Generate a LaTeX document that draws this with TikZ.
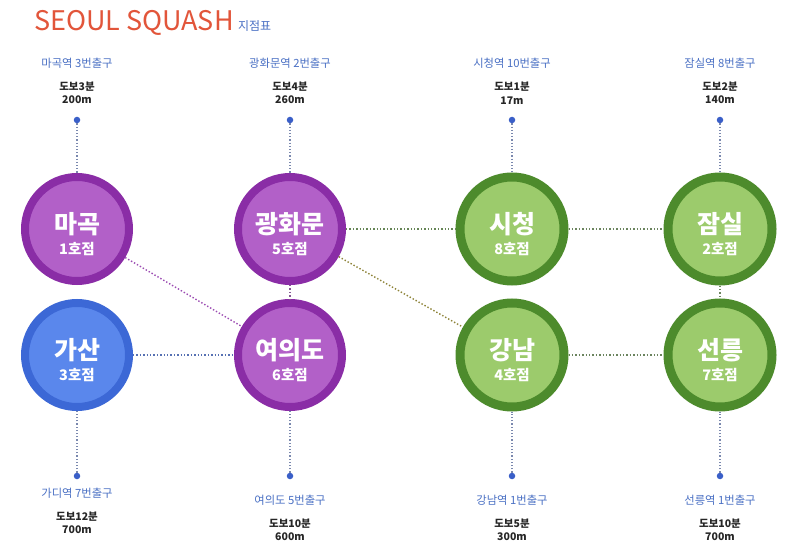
\documentclass[tikz,border=0pt]{standalone}
\usepackage{fontspec}
\setmainfont{Noto Sans CJK KR}
\begin{document}
\begin{tikzpicture}[x=1pt,y=-1pt,
  ring/.style={circle, minimum size=104pt, inner sep=0pt, line width=8pt},
  purp/.style={ring, draw=purpring, fill=purpin},
  blu/.style={ring, draw=bluring, fill=bluin},
  grn/.style={ring, draw=grnring, fill=grnin, line width=9pt},
  bigt/.style={text=white, font=\fontsize{25}{30}\selectfont\bfseries, inner sep=0pt},
  subt/.style={text=white, font=\fontsize{14.5}{16}\selectfont\bfseries, inner sep=0pt},
  stlabel/.style={text=stblue, font=\fontsize{11.3}{13}\selectfont, inner sep=0pt},
  walk/.style={text=black!85, font=\fontsize{10.5}{13.5}\selectfont\bfseries, align=center, inner sep=0pt},
  dotnode/.style={circle, fill=dotblue, minimum size=6.5pt, inner sep=0pt},
  conn/.style={dotted, line width=1.4pt},
  pin/.style={dotted, line width=1.2pt, draw=pingray}
]
\newcommand{\branch}[6]{%
  \node[#2] (#1) at (#3,#4) {};
  \node[bigt] (#1-n) at (#3,#4-5) {#5};
  \node[subt] (#1-s) at (#3,#4+20) {#6};}
\definecolor{purpring}{HTML}{8A2DA6}
\definecolor{purpin}{HTML}{B260C8}
\definecolor{bluring}{HTML}{3C68D6}
\definecolor{bluin}{HTML}{5A87EC}
\definecolor{grnring}{HTML}{4D8B2C}
\definecolor{grnin}{HTML}{9CCB6C}
\definecolor{stblue}{HTML}{4A70C4}
\definecolor{dotblue}{HTML}{3A5FC8}
\definecolor{pingray}{HTML}{7A88AE}
\definecolor{titlered}{HTML}{E2553A}
\useasboundingbox[fill=white] (0,0) rectangle (800,553);

% title
\node[anchor=base west, inner sep=0pt, text=titlered, font=\fontsize{27}{30}\selectfont] (title) at (34,31) {SEOUL SQUASH};
\node[anchor=base west, inner sep=0pt, text=stblue, font=\fontsize{12}{14}\selectfont] (titlesub) at ([xshift=4pt]title.base east) {지점표};

% circles
\branch{magok}{purp}{77}{229}{마곡}{1호점}
\branch{gwang}{purp}{290}{229}{광화문}{5호점}
\branch{sichung}{grn}{512}{229}{시청}{8호점}
\branch{jamsil}{grn}{720}{229}{잠실}{2호점}
\branch{gasan}{blu}{77}{355}{가산}{3호점}
\branch{yeoui}{purp}{290}{355}{여의도}{6호점}
\branch{gangnam}{grn}{512}{355}{강남}{4호점}
\branch{seonn}{grn}{720}{355}{선릉}{7호점}

% connectors between circles
\draw[conn, draw=purpring!85] (magok) -- (yeoui);
\draw[conn, draw=bluring!60!gray] (gasan) -- (yeoui);
\draw[conn, draw=purpring!50!gray] (gwang) -- (yeoui);
\draw[conn, draw=grnring!50!gray] (gwang) -- (sichung);
\draw[conn, draw=grnring!60!orange!70!gray] (gwang) -- (gangnam);
\draw[conn, draw=grnring!40!gray] (sichung) -- (jamsil);
\draw[conn, draw=grnring!40!gray] (jamsil) -- (seonn);
\draw[conn, draw=grnring!40!gray] (gangnam) -- (seonn);

% top labels
\node[stlabel] (l1) at (77,63) {마곡역 3번출구};
\node[walk] (w1) at (77,93) {도보3분\\200m};
\node[dotnode] (d1) at (77,120) {};
\node[stlabel] (l2) at (290,63) {광화문역 2번출구};
\node[walk] (w2) at (290,93) {도보4분\\260m};
\node[dotnode] (d2) at (290,120) {};
\node[stlabel] (l3) at (512,63) {시청역 10번출구};
\node[walk] (w3) at (512,93) {도보1분\\17m};
\node[dotnode] (d3) at (512,120) {};
\node[stlabel] (l4) at (720,63) {잠실역 8번출구};
\node[walk] (w4) at (720,93) {도보2분\\140m};
\node[dotnode] (d4) at (720,120) {};

% bottom labels
\node[dotnode] (d5) at (77,476) {};
\node[stlabel] (l5) at (77,493) {가디역 7번출구};
\node[walk] (w5) at (77,523) {도보12분\\700m};
\node[dotnode] (d6) at (290,476) {};
\node[stlabel] (l6) at (290,500) {여의도 5번출구};
\node[walk] (w6) at (290,530) {도보10분\\600m};
\node[dotnode] (d7) at (512,476) {};
\node[stlabel] (l7) at (512,500) {강남역 1번출구};
\node[walk] (w7) at (512,530) {도보5분\\300m};
\node[dotnode] (d8) at (720,476) {};
\node[stlabel] (l8) at (720,500) {선릉역 1번출구};
\node[walk] (w8) at (720,530) {도보10분\\700m};

% pins
\draw[pin] (d1) -- (magok);
\draw[pin] (d2) -- (gwang);
\draw[pin] (d3) -- (sichung);
\draw[pin] (d4) -- (jamsil);
\draw[pin] (d5) -- (gasan);
\draw[pin] (d6) -- (yeoui);
\draw[pin] (d7) -- (gangnam);
\draw[pin] (d8) -- (seonn);
\end{tikzpicture}
\end{document}
